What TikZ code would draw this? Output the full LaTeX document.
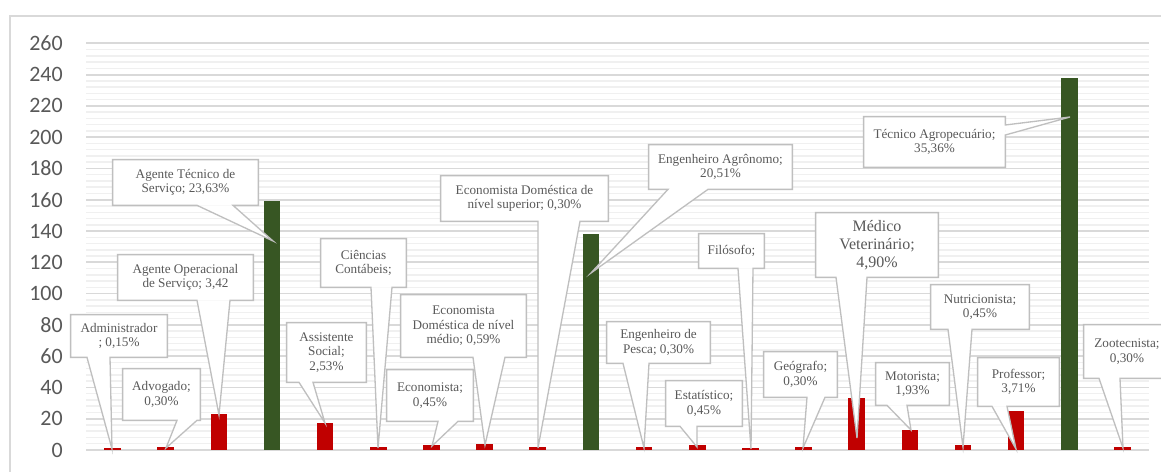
\documentclass[tikz,border=0pt]{standalone}
\usepackage{fontspec}
\setmainfont{Liberation Serif}
\newfontfamily\axisfont{Carlito}
\usetikzlibrary{calc}

\definecolor{barred}{HTML}{C00000}
\definecolor{bargreen}{HTML}{375623}
\definecolor{gridmajor}{HTML}{D9D9D9}
\definecolor{gridminor}{HTML}{F0F0F0}
\definecolor{calloutline}{HTML}{BFBFBF}
\definecolor{labelgray}{HTML}{595959}

% callout box with its wedge on the bottom edge: node, left x, right x, tip
\newcommand{\callout}[4]{%
  \fill[white] (#2,0 |- #1.south) -- (#4) -- (#3,0 |- #1.south) -- cycle;
  \draw[callline] (#1.south west) -- (#2,0 |- #1.south) -- (#4)
    -- (#3,0 |- #1.south) -- (#1.south east) |- (#1.north west) -- cycle;}

\begin{document}
\begin{tikzpicture}[x=0.02cm,y=-0.02cm,
                    callline/.style={draw=calloutline,line width=0.75pt,line join=miter},
                    boxdim/.style 2 args={minimum width=#1*0.02cm,minimum height=#2*0.02cm}]

  \tikzstyle{callbox}=[fill=white,text=labelgray,align=center,inner sep=0pt,
                       font=\fontsize{7.5}{8.2}\selectfont]
  \tikzstyle{ticklabel}=[anchor=east,text=labelgray,inner sep=0pt,
                         font=\axisfont\fontsize{12.5}{14}\selectfont]

  \useasboundingbox (0,0) rectangle (1161,472);
  \fill[white] (0,0) rectangle (1161,472);
  \draw[gridmajor,line width=0.6pt] (10,16) rectangle (1180,490);

  % grid and axis
  \foreach \v in {0,4,...,260}
    \draw[gridminor,line width=0.85pt] (86,450-1.564*\v) -- (1149,450-1.564*\v);
  \foreach \v in {0,20,...,260} {
    \draw[gridmajor,line width=1pt] (86,450-1.564*\v) -- (1149,450-1.564*\v);
    \node[ticklabel] (y\v) at (63,450-1.564*\v) {\v};
  }

  % bars
  \foreach \v [count=\i] in {1,2,23,159,17,2,3,4,2,138,2,3,1,2,33,13,3,25,238,2} {
    \pgfmathsetmacro\bx{86+53.15*(\i-0.5)}
    \ifnum\v>100 \def\bc{bargreen}\else\def\bc{barred}\fi
    \fill[\bc] (\bx-8.3,450) rectangle (\bx+8.3,450-1.564*\v);
  }

  % callouts
  \node[callbox,boxdim={96}{42}] (adm) at (119,336) {Administrador\\; 0,15\%};
  \coordinate (adm-tip) at (112,449);
  \callout{adm}{87}{110}{adm-tip}

  \node[callbox,boxdim={77}{51}] (adv) at (161.5,394.5) {Advogado;\\0,30\%};
  \coordinate (adv-tip) at (166,448);
  \callout{adv}{177}{197}{adv-tip}

  \node[callbox,boxdim={135}{45}] (agop) at (185.5,277.5) {Agente Operacional\\de Serviço; 3,42};
  \coordinate (agop-tip) at (219,415);
  \callout{agop}{197}{230}{agop-tip}

  \node[callbox,boxdim={145}{45}] (agts) at (185.5,182.5) {Agente Técnico de\\Serviço; 23,63\%};
  \coordinate (agts-tip) at (273,241);
  \callout{agts}{197}{233}{agts-tip}

  \node[callbox,boxdim={79}{59}] (asso) at (326.5,352.5) {Assistente\\Social;\\2,53\%};
  \coordinate (asso-tip) at (325,423);
  \callout{asso}{299}{313}{asso-tip}

  \node[callbox,boxdim={85}{48}] (cic) at (363.5,263) {Ciências\\Contábeis;};
  \coordinate (cic-tip) at (378,448);
  \callout{cic}{371}{392}{cic-tip}

  \node[callbox,boxdim={86}{51}] (eco) at (430,395.5) {Economista;\\0,45\%};
  \coordinate (eco-tip) at (432,446);
  \callout{eco}{438}{458}{eco-tip}

  \node[callbox,boxdim={125}{62}] (edm) at (463.5,326) {Economista\\Doméstica de nível\\médio; 0,59\%};
  \coordinate (edm-tip) at (485,445);
  \callout{edm}{473}{505}{edm-tip}

  \node[callbox,boxdim={167}{45}] (eds) at (524.5,198.5) {Economista Doméstica de\\nível superior; 0,30\%};
  \coordinate (eds-tip) at (538,448);
  \callout{eds}{538}{580}{eds-tip}

  \node[callbox,boxdim={143}{44}] (eagr) at (720.5,167) {Engenheiro Agrônomo;\\20,51\%};
  \coordinate (eagr-tip) at (591,273);
  \callout{eagr}{668}{708}{eagr-tip}

  \node[callbox,boxdim={103}{41}] (epes) at (658.5,342.5) {Engenheiro de\\Pesca; 0,30\%};
  \coordinate (epes-tip) at (644,448);
  \callout{epes}{623}{649}{epes-tip}

  \node[callbox,boxdim={76}{45}] (est) at (704,403.5) {Estatístico;\\0,45\%};
  \coordinate (est-tip) at (697,447);
  \callout{est}{680}{697}{est-tip}

  \node[callbox,boxdim={65}{34}] (fil) at (731.5,251) {Filósofo;};
  \coordinate (fil-tip) at (751,449);
  \callout{fil}{738}{753}{fil-tip}

  \node[callbox,boxdim={73}{45}] (geo) at (800.5,374.5) {Geógrafo;\\0,30\%};
  \coordinate (geo-tip) at (803,448);
  \callout{geo}{807}{825}{geo-tip}

  \node[callbox,boxdim={122}{64},font=\fontsize{9.1}{10.4}\selectfont] (medv) at (877,245)
    {Médico\\Veterinário;\\4,90\%};
  \coordinate (medv-tip) at (857,438);
  \callout{medv}{836}{867}{medv-tip}

  \node[callbox,boxdim={73}{42}] (mot) at (912.5,384) {Motorista;\\1,93\%};
  \coordinate (mot-tip) at (911,430);
  \callout{mot}{887}{907}{mot-tip}

  \node[callbox,boxdim={98}{44}] (nut) at (980,307) {Nutricionista;\\0,45\%};
  \coordinate (nut-tip) at (963,447);
  \callout{nut}{948}{972}{nut-tip}

  \node[callbox,boxdim={81}{48}] (prof) at (1018.5,382) {Professor;\\3,71\%};
  \coordinate (prof-tip) at (1016,449);
  \callout{prof}{992}{1007}{prof-tip}

  \node[callbox,boxdim={141}{50}] (tagr) at (934.5,142) {Técnico Agropecuário;\\35,36\%};
  \coordinate (tagr-tip) at (1070,117);
  \fill[white] (tagr.east |- 0,125) -- (tagr-tip) -- (tagr.east |- 0,135) -- cycle;
  \draw[callline] (tagr.south west) -- (tagr.south east) -- (tagr.east |- 0,135)
    -- (tagr-tip) -- (tagr.east |- 0,125) |- (tagr.north west) -- cycle;

  \node[callbox,boxdim={86}{53}] (zoo) at (1127,351.5) {Zootecnista;\\0,30\%};
  \coordinate (zoo-tip) at (1123,448);
  \callout{zoo}{1099}{1120}{zoo-tip}

\end{tikzpicture}
\end{document}
